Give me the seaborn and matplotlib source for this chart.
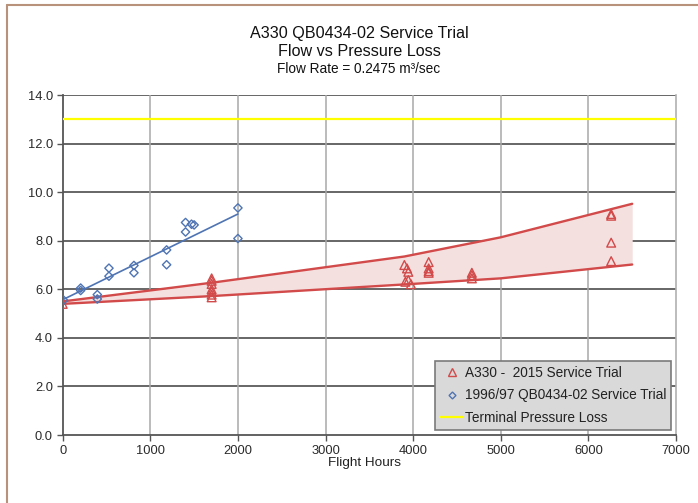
import matplotlib
matplotlib.use("Agg")
import matplotlib.pyplot as plt
from matplotlib.lines import Line2D
import seaborn as sns
import pandas as pd

# ---- data ----
red_x = [0, 1700, 1700, 1700, 1700, 1700, 1700, 1700,
         3900, 3930, 3945, 3911, 3945, 3975,
         4177, 4177, 4177, 4177,
         4670, 4670, 4670,
         6260, 6260, 6260, 6260]
red_y = [5.4, 6.45, 6.35, 6.22, 6.0, 5.9, 5.78, 5.67,
         7.0, 6.86, 6.72, 6.31, 6.38, 6.21,
         7.12, 6.86, 6.75, 6.68,
         6.68, 6.58, 6.45,
         9.1, 9.03, 7.92, 7.16]

blue_x = [10, 205, 205, 395, 395, 528, 528, 813, 813, 1186, 1186,
          1402, 1402, 1470, 1500, 2000, 2000]
blue_y = [5.55, 6.05, 5.95, 5.78, 5.6, 6.87, 6.54, 6.98, 6.68, 7.62, 7.01,
          8.75, 8.36, 8.68, 8.65, 9.35, 8.09]

blue_trend_x = [0, 2000]
blue_trend_y = [5.57, 9.1]

band_x = [0, 1700, 3900, 5000, 6500]
band_hi = [5.5, 6.27, 7.35, 8.14, 9.52]
band_lo = [5.4, 5.72, 6.2, 6.45, 7.02]

terminal_x = [0, 7000]
terminal_y = [13.0, 13.0]

labels = ["A330 -  2015 Service Trial",
          "1996/97 QB0434-02 Service Trial",
          "Terminal Pressure Loss"]

# ---- style ----
sns.set_style("white")
plt.rcParams["font.family"] = ["Liberation Sans", "DejaVu Sans"]

RED = "#d24a4a"
BLUE = "#4f74b3"
YEL = "#ffff00"
BAND = "#f5e0e0"

fig = plt.figure(figsize=(6.98, 5.03), dpi=100)
W, H = 698, 503
L, R, T, B = 62.7, 676, 95, 435
ax = fig.add_axes([L / W, 1 - B / H, (R - L) / W, (B - T) / H])

# band
ax.fill_between(band_x, band_lo, band_hi, color=BAND, lw=0, zorder=1)
band_df = pd.DataFrame({"x": band_x + band_x,
                        "y": band_hi + band_lo,
                        "g": ["hi"] * len(band_x) + ["lo"] * len(band_x)})
sns.lineplot(data=band_df, x="x", y="y", units="g", estimator=None,
             color=RED, lw=1.7, ax=ax, zorder=3, legend=False)

# terminal
sns.lineplot(x=terminal_x, y=terminal_y, color=YEL, lw=1.6, ax=ax, zorder=3)

# blue trend
sns.lineplot(x=blue_trend_x, y=blue_trend_y, color=BLUE, lw=1.2, ax=ax, zorder=3)

# scatter
ax.scatter(red_x, red_y, marker="^", s=40, facecolors="none",
           edgecolors=RED, linewidths=1.0, zorder=4)
sns.scatterplot(x=blue_x, y=blue_y, marker="D", s=18, color="none",
                edgecolor=BLUE, linewidth=1.0, ax=ax, zorder=4)

ax.set_xlim(0, 7000)
ax.set_ylim(0, 14)
ax.set_xticks(range(0, 7001, 1000))
ax.set_yticks([i * 2.0 for i in range(8)])
ax.set_yticklabels([f"{i * 2.0:.1f}" for i in range(8)])

ax.grid(False)
for yv in range(2, 15, 2):
    ax.axhline(yv, color="#5a5a5a", lw=1.3, zorder=0)
for xv in range(1000, 7000, 1000):
    ax.axvline(xv, color="#a8a8a8", lw=1.1, zorder=0)

for s in ["left", "bottom"]:
    ax.spines[s].set_color("#555555")
    ax.spines[s].set_linewidth(1.3)
ax.spines["top"].set_visible(False)
ax.spines["right"].set_color("#b0b0b0")
ax.spines["right"].set_linewidth(1.2)

ax.tick_params(axis="both", direction="out", length=4, width=1,
               color="#555555", labelsize=9.3, labelcolor="#2a2a2a",
               bottom=True, left=True)
ax.tick_params(axis="x", pad=3.5)
ax.tick_params(axis="y", pad=3)
ax.set_xlabel("")
ax.set_ylabel("")

fig.text(365 / W, 1 - 463 / H, "Flight Hours", ha="center", va="center",
         fontsize=9.7, color="#222222")

fig.text(359 / W, 1 - 33 / H, "A330 QB0434-02 Service Trial", ha="center",
         va="center", fontsize=11.6, color="#111111")
fig.text(359 / W, 1 - 51 / H, "Flow vs Pressure Loss", ha="center",
         va="center", fontsize=11.6, color="#111111")
fig.text(359 / W, 1 - 69 / H, "Flow Rate = 0.2475 m\u00b3/sec", ha="center",
         va="center", fontsize=9.8, color="#111111")

handles = [
    Line2D([], [], ls="none", marker="^", ms=5.5, mfc="none", mec=RED, mew=1.0),
    Line2D([], [], ls="none", marker="D", ms=3.5, mfc="none", mec=BLUE, mew=1.0),
    Line2D([], [], color=YEL, lw=1.6),
]
leg = ax.legend(handles, labels, loc="lower right",
                bbox_to_anchor=((670.7 - L) / (R - L), (B - 430) / (B - T)),
                borderaxespad=0, frameon=True, fancybox=False,
                facecolor="#d9d9d9", edgecolor="#7a7a7a", framealpha=1,
                fontsize=9.8, handlelength=1.7, handletextpad=0.1,
                labelspacing=0.65, borderpad=0.35)
leg.get_frame().set_linewidth(1.2)
for t in leg.get_texts():
    t.set_color("#222222")

# outer border (tan)
bc = "#b8927a"
fig.add_artist(Line2D([7 / W, 7 / W], [0, 1 - 5 / H], color=bc, lw=1.5,
                      transform=fig.transFigure))
fig.add_artist(Line2D([7 / W, 1], [1 - 5 / H, 1 - 5 / H], color=bc, lw=1.5,
                      transform=fig.transFigure))

fig.savefig("out.png", dpi=100)
